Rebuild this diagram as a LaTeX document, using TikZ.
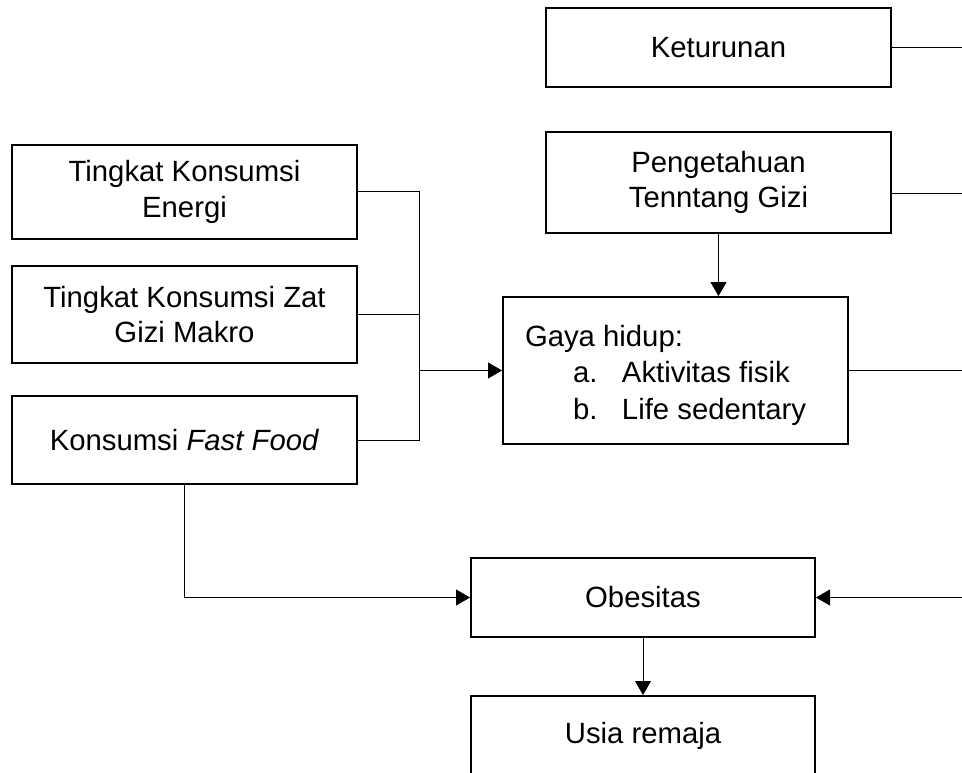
\documentclass[tikz,border=0pt]{standalone}
\usepackage{fontspec}
\setmainfont{Liberation Sans}
\usetikzlibrary{arrows.meta}
\begin{document}
\begin{tikzpicture}[x=1pt,y=-1pt,
  box/.style={draw,line width=2pt,rectangle,minimum width=345pt,align=center,inner sep=0pt,font=\fontsize{29.3}{35.5}\selectfont},
  conn/.style={line width=1pt},
  arr/.style={conn,-{Triangle[length=14pt,width=16pt]}}]
\useasboundingbox (0,0) rectangle (962,773);
\fill[white] (0,0) rectangle (962,773);
\clip (0,0) rectangle (962,773);
% nodes
\node[box,minimum height=79pt] (ket) at (718.5,47.5) {Keturunan};
\node[box,minimum height=101pt] (peng) at (718.5,182.5) {Pengetahuan\\Tenntang Gizi};
\node[box,minimum height=147pt,inner xsep=22pt,font=\fontsize{29.3}{36.5}\selectfont] (gaya) at (675.5,370.5)
  {\raisebox{-4.5pt}[\height][\depth]{\parbox{301pt}{\raggedright Gaya hidup:\\\hspace*{48pt}\makebox[49pt][l]{a.}Aktivitas fisik\\\hspace*{48pt}\makebox[49pt][l]{b.}Life sedentary}}};
\node[box,minimum height=94pt] (t1) at (184.5,192) {Tingkat Konsumsi\\Energi};
\node[box,minimum height=97pt] (t2) at (184.5,314.5) {Tingkat Konsumsi Zat\\Gizi Makro};
\node[box,minimum height=88pt] (t3) at (184.5,440) {Konsumsi \textit{Fast Food}};
\node[box,minimum width=344pt,minimum height=79pt] (obes) at (643,597.5) {Obesitas};
\node[box,minimum width=344pt,minimum height=79pt] (usia) at (643,735.5) {Usia remaja};
% coordinates
\coordinate (r1) at (966,47.5);
\coordinate (r2) at (966,194);
\coordinate (r3) at (966,370);
\coordinate (r4) at (966,597.5);
\coordinate (bus) at (419,370.5);
% connectors
\draw[conn] (ket.east) -- (r1);
\draw[conn] (peng.east |- r2) -- (r2);
\draw[conn] (gaya.east |- r3) -- (r3);
\draw[arr] (r4) -- (obes.east);
\draw[conn] (t1.east) -| (bus |- t3.east) -- (t3.east);
\draw[conn] (t2.east) -- (bus |- t2.east);
\draw[arr] (bus) -- (gaya.west);
\draw[arr] (peng.south) -- (peng.south |- gaya.north);
\draw[arr] (t3.south) |- (obes.west);
\draw[arr] (obes.south) -- (usia.north);
\end{tikzpicture}
\end{document}
